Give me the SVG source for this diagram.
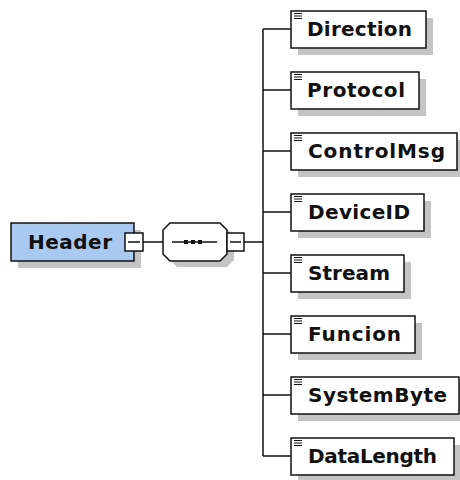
<svg xmlns="http://www.w3.org/2000/svg" width="460" height="480" viewBox="0 0 460 480">
<style>
.sh{fill:#c4c4c4}
.box{fill:#fff;stroke:#111;stroke-width:1.5}
.hdr{fill:#a9c9f0;stroke:#111;stroke-width:1.5}
.t{font-family:"DejaVu Sans","Liberation Sans",sans-serif;font-weight:bold;font-size:20px;fill:#111}
.ln{stroke:#111;stroke-width:1.5;fill:none}
.ic{stroke:#111;stroke-width:1.2}
</style>
<defs>
<g id="icon"><path class="ic" d="M0,0.5H8M0,3H8M0,5.5H8"/></g>
</defs>
<rect width="460" height="480" fill="#fff"/>
<g id="connectors">
<path class="ln" d="M143,242H163M244,242H263M263,29V456M263,29H291M263,90H291M263,151H291M263,212H291M263,273H291M263,334H291M263,395H291M263,456H291"/>
</g>
<g id="Header">
<rect class="sh" x="18" y="230" width="123" height="38"/>
<rect class="hdr" x="11" y="223" width="123" height="38"/>
<text class="t" x="28" y="249" textLength="84" lengthAdjust="spacing">Header</text>
<rect class="box" x="125" y="233" width="18" height="18"/>
<path class="ln" d="M128,242H140"/>
</g>
<g id="sequence">
<path class="sh" d="M177,229H227L234,236V260L227,267H177L170,260V236Z"/>
<path class="box" d="M170,223H220L227,230V254L220,261H170L163,254V230Z"/>
<path class="ln" d="M172,242H217"/>
<rect x="184" y="240" width="4" height="4" fill="#111"/>
<rect x="191" y="240" width="4" height="4" fill="#111"/>
<rect x="198" y="240" width="4" height="4" fill="#111"/>
<rect class="box" x="227" y="233" width="17" height="18"/>
<path class="ln" d="M230,242H241"/>
</g>
<g id="Direction">
<rect class="sh" x="298" y="18" width="135" height="37"/>
<rect class="box" x="291" y="11" width="135" height="37"/>
<use href="#icon" x="294" y="13"/>
<text class="t" x="307" y="36" textLength="105" lengthAdjust="spacing">Direction</text>
</g>
<g id="Protocol">
<rect class="sh" x="298" y="79" width="128" height="37"/>
<rect class="box" x="291" y="72" width="128" height="37"/>
<use href="#icon" x="294" y="74"/>
<text class="t" x="307" y="97" textLength="98" lengthAdjust="spacing">Protocol</text>
</g>
<g id="ControlMsg">
<rect class="sh" x="298" y="140" width="166" height="37"/>
<rect class="box" x="291" y="133" width="166" height="37"/>
<use href="#icon" x="294" y="135"/>
<text class="t" x="308" y="158" textLength="137" lengthAdjust="spacing">ControlMsg</text>
</g>
<g id="DeviceID">
<rect class="sh" x="298" y="201" width="133" height="37"/>
<rect class="box" x="291" y="194" width="133" height="37"/>
<use href="#icon" x="294" y="196"/>
<text class="t" x="308" y="219" textLength="102" lengthAdjust="spacing">DeviceID</text>
</g>
<g id="Stream">
<rect class="sh" x="298" y="262" width="113" height="37"/>
<rect class="box" x="291" y="255" width="113" height="37"/>
<use href="#icon" x="294" y="257"/>
<text class="t" x="308" y="280" textLength="82" lengthAdjust="spacing">Stream</text>
</g>
<g id="Funcion">
<rect class="sh" x="298" y="323" width="124" height="37"/>
<rect class="box" x="291" y="316" width="124" height="37"/>
<use href="#icon" x="294" y="318"/>
<text class="t" x="308" y="341" textLength="93" lengthAdjust="spacing">Funcion</text>
</g>
<g id="SystemByte">
<rect class="sh" x="298" y="384" width="168" height="37"/>
<rect class="box" x="291" y="377" width="168" height="37"/>
<use href="#icon" x="294" y="379"/>
<text class="t" x="308" y="402" textLength="139" lengthAdjust="spacing">SystemByte</text>
</g>
<g id="DataLength">
<rect class="sh" x="298" y="445" width="163" height="37"/>
<rect class="box" x="291" y="438" width="163" height="37"/>
<use href="#icon" x="294" y="440"/>
<text class="t" x="308" y="463" textLength="129" lengthAdjust="spacing">DataLength</text>
</g>
</svg>
